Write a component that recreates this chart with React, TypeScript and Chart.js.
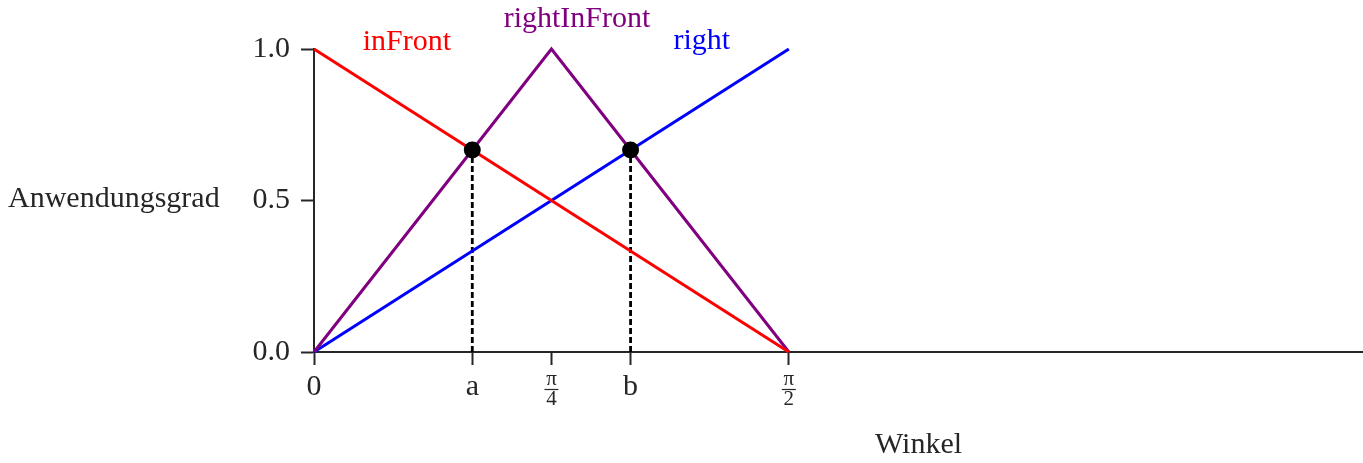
import { useEffect, useRef } from "react";
import { Chart, registerables } from "chart.js";

Chart.register(...registerables);

// Angle samples (radians) where the membership functions change slope
const angles = [0, Math.PI / 4, Math.PI / 2];
// Degree of membership of each fuzzy set at those angles
const inFront = [1, 0.5, 0];
const rightInFront = [0, 1, 0];
const right = [0, 0.5, 1];

// Crossing points a and b with their degree of membership
const crossAngles = [Math.PI / 6, Math.PI / 3];
const crossDegrees = [2 / 3, 2 / 3];

// Axis ticks
const xTickValues = [0, Math.PI / 6, Math.PI / 4, Math.PI / 3, Math.PI / 2];
const xTickLabels: (string | string[])[] = ["0", "a", ["π", "4"], "b", ["π", "2"]];
const yTickValues = [0, 0.5, 1];

// Set names and where their captions sit (data units: centre x, baseline y)
const setNames = ["inFront", "rightInFront", "right"];
const setColors = ["#ff0000", "#800080", "#0000ff"];
const captionX = [0.3075, 0.87, 1.283];
const captionY = [0.997, 1.073, 1.0];

const FAMILY = "'Liberation Serif', 'Times New Roman', serif";
const INK = "#262626";
const TICK_LEN = 13;
const X_PAD = 4;
const FRACTION_SIZE = 21;

const annotate = {
  id: "annotate",
  afterDraw(chart: any) {
    const { ctx, scales } = chart;
    const xs = scales.x;
    const ys = scales.y;
    ctx.save();

    // set captions
    ctx.font = `30px ${FAMILY}`;
    ctx.textAlign = "center";
    ctx.textBaseline = "alphabetic";
    setNames.forEach((name, i) => {
      ctx.fillStyle = setColors[i];
      ctx.fillText(name, xs.getPixelForValue(captionX[i]), ys.getPixelForValue(captionY[i]));
    });

    // fraction bars between numerator and denominator of stacked tick labels
    ctx.strokeStyle = INK;
    ctx.lineWidth = 1.2;
    xTickValues.forEach((v, i) => {
      if (!Array.isArray(xTickLabels[i])) return;
      const px = xs.getPixelForValue(v);
      const py = xs.top + TICK_LEN + X_PAD + FRACTION_SIZE - 0.5;
      ctx.beginPath();
      ctx.moveTo(px - 7, py);
      ctx.lineTo(px + 7, py);
      ctx.stroke();
    });

    // axis titles
    ctx.fillStyle = INK;
    ctx.textAlign = "left";
    ctx.fillText("Anwendungsgrad", 8, 207);
    ctx.fillText("Winkel", 875, 453);
    ctx.restore();
  },
};

export default function App() {
  const canvasRef = useRef<HTMLCanvasElement | null>(null);

  useEffect(() => {
    const canvas = canvasRef.current;
    if (!canvas) return;

    const toPoints = (ys: number[]) => angles.map((x, i) => ({ x, y: ys[i] }));
    const setSeries = [inFront, rightInFront, right];

    const datasets: any[] = [
      {
        type: "scatter",
        data: crossAngles.map((x, i) => ({ x, y: crossDegrees[i] })),
        pointRadius: 8.5,
        pointBackgroundColor: "#000000",
        pointBorderWidth: 0,
        order: 0,
        clip: false,
      },
      ...setSeries.map((ys, i) => ({
        type: "line",
        label: setNames[i],
        data: toPoints(ys),
        borderColor: setColors[i],
        borderWidth: 3,
        pointRadius: 0,
        tension: 0,
        order: 1 + i,
        clip: false,
      })),
      ...crossAngles.map((x, i) => ({
        type: "line",
        data: [
          { x, y: 0 },
          { x, y: crossDegrees[i] },
        ],
        borderColor: "#000000",
        borderWidth: 2.8,
        borderDash: [6, 3],
        pointRadius: 0,
        order: 5,
        clip: false,
      })),
    ];

    const chart = new Chart(canvas, {
      type: "line",
      data: { datasets },
      plugins: [annotate],
      options: {
        responsive: false,
        animation: false,
        events: [],
        layout: { autoPadding: false, padding: { top: 49, left: 0, right: 0, bottom: 0 } },
        plugins: { legend: { display: false }, tooltip: { enabled: false } },
        scales: {
          x: {
            type: "linear",
            min: 0,
            max: 3.47,
            afterFit: (s: any) => {
              s.height = 111;
              s.paddingLeft = 0;
              s.paddingRight = 0;
            },
            afterBuildTicks: (s: any) => {
              s.ticks = xTickValues.map((value) => ({ value }));
            },
            grid: {
              display: true,
              drawOnChartArea: false,
              drawTicks: true,
              tickLength: TICK_LEN,
              tickWidth: 2,
              tickColor: INK,
            },
            border: { display: true, width: 2, color: INK },
            ticks: {
              padding: X_PAD,
              color: INK,
              maxRotation: 0,
              autoSkip: false,
              callback: (_v: any, i: number) => xTickLabels[i],
              font: (c: any) =>
                Array.isArray(c.tick && c.tick.label)
                  ? { family: FAMILY, size: FRACTION_SIZE, lineHeight: 0.97 }
                  : { family: FAMILY, size: 30, lineHeight: 1.2 },
            },
          },
          y: {
            type: "linear",
            min: 0,
            max: 1,
            afterFit: (s: any) => {
              s.width = 314;
              s.paddingTop = 0;
              s.paddingBottom = 0;
            },
            afterBuildTicks: (s: any) => {
              s.ticks = yTickValues.map((value) => ({ value }));
            },
            grid: {
              display: true,
              drawOnChartArea: false,
              drawTicks: true,
              tickLength: TICK_LEN,
              tickWidth: 2,
              tickColor: INK,
            },
            border: { display: true, width: 2, color: INK },
            ticks: {
              padding: 11,
              color: INK,
              font: { family: FAMILY, size: 30 },
              callback: (v: any) => Number(v).toFixed(1),
            },
          },
        },
      },
    });

    return () => chart.destroy();
  }, []);

  return (
    <div style={{ position: "fixed", left: 0, top: 0, width: 1363, height: 463, background: "#ffffff" }}>
      <canvas ref={canvasRef} width={1363} height={463} style={{ display: "block" }} />
    </div>
  );
}
